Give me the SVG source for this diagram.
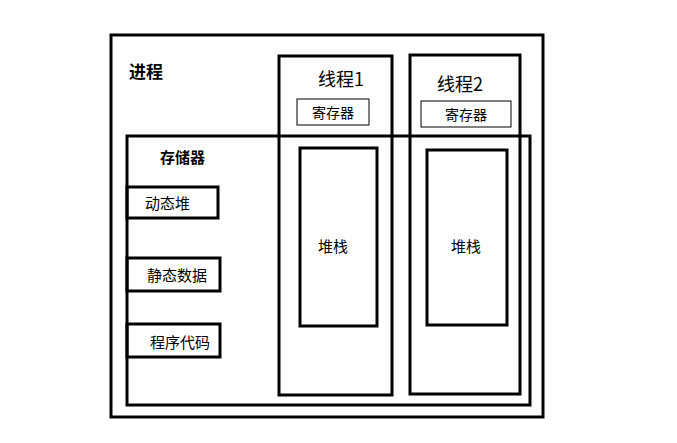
<svg xmlns="http://www.w3.org/2000/svg" width="677" height="443" viewBox="0 0 677 443">
<style>
.b{fill:none;stroke:#000;stroke-width:3}
.t{fill:none;stroke:#000;stroke-width:1}
text{font-family:"Noto Sans CJK SC","Liberation Sans",sans-serif;fill:#000}
</style>
<rect width="677" height="443" fill="#fff"/>
<g id="process"><rect class="b" x="111" y="35" width="432" height="382"/><text x="129" y="78" font-size="17" font-weight="bold">进程</text></g>
<g id="thread1"><rect class="b" x="279" y="56" width="113" height="339"/><text x="318" y="86" font-size="18">线程1</text></g>
<g id="thread2"><rect class="b" x="410" y="55" width="110" height="339"/><text x="437" y="91" font-size="18">线程2</text></g>
<g id="storage"><rect class="b" x="127" y="136" width="403" height="269"/><text x="160" y="163" font-size="15" font-weight="bold">存储器</text></g>
<g id="reg1"><rect class="t" x="297" y="99" width="72" height="26"/><text x="333" y="118" font-size="14" text-anchor="middle">寄存器</text></g>
<g id="reg2"><rect class="t" x="421" y="101" width="90" height="26"/><text x="466" y="120" font-size="14" text-anchor="middle">寄存器</text></g>
<g id="stack1"><rect class="b" x="300" y="148" width="77" height="178"/><text x="318" y="252" font-size="15">堆栈</text></g>
<g id="stack2"><rect class="b" x="427" y="150" width="80" height="175"/><text x="451" y="252" font-size="15">堆栈</text></g>
<g id="heap"><rect class="b" x="127" y="187" width="91" height="31"/><text x="145" y="209" font-size="15">动态堆</text></g>
<g id="static"><rect class="b" x="127" y="258" width="93" height="33"/><text x="147" y="281" font-size="15">静态数据</text></g>
<g id="code"><rect class="b" x="127" y="324" width="93" height="33"/><text x="150" y="348" font-size="15">程序代码</text></g>
<g id="connectors"></g>
</svg>
